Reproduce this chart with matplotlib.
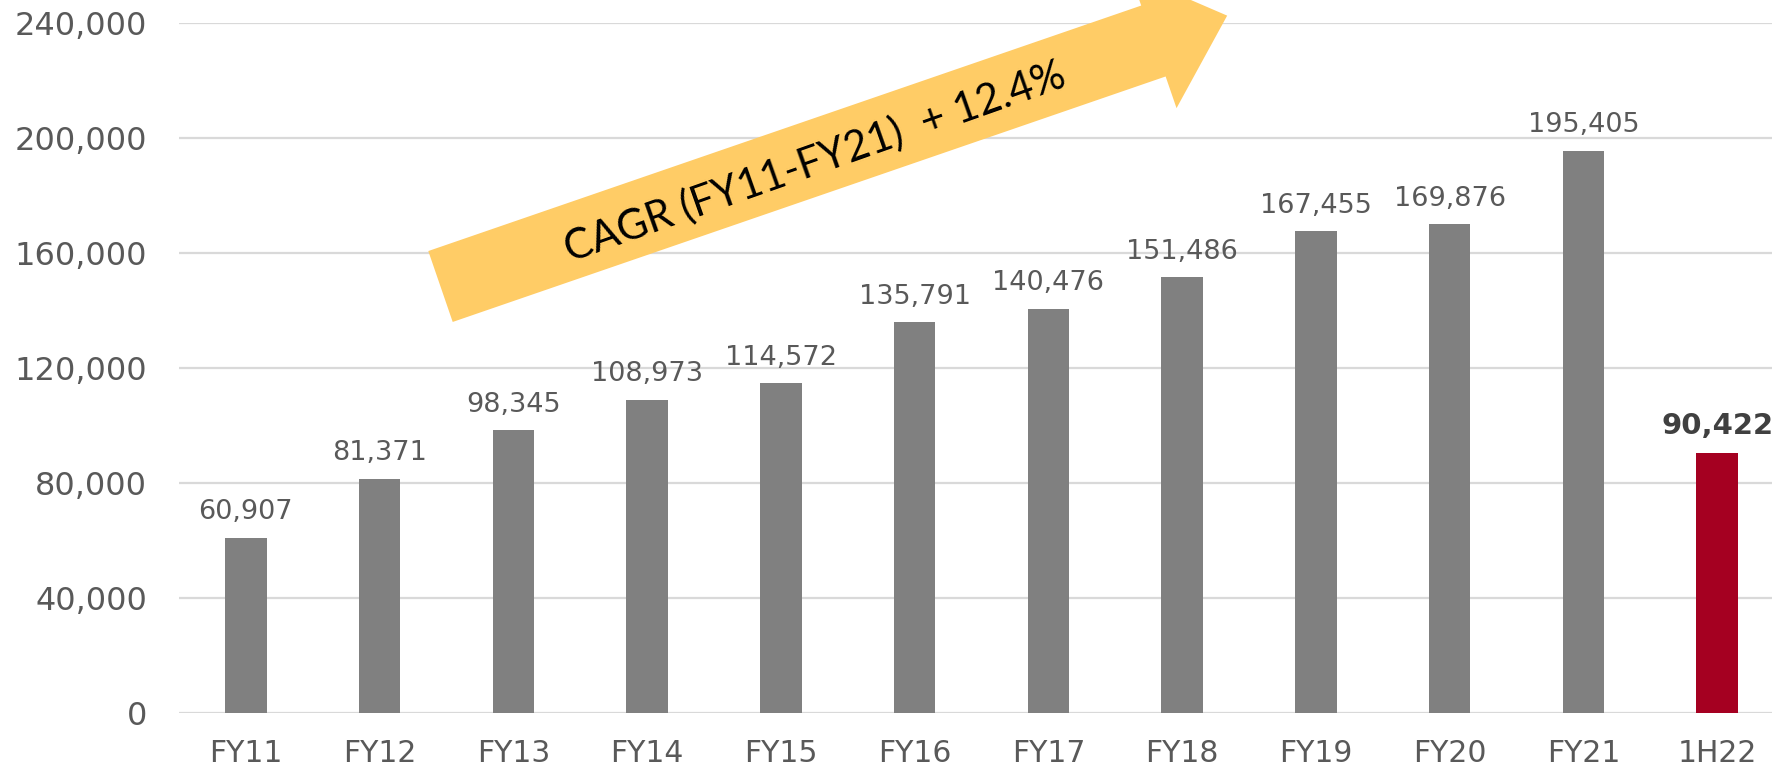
import numpy as np
import matplotlib
matplotlib.use('Agg')
import matplotlib.pyplot as plt
from matplotlib.patches import Polygon

# data
categories = ["FY11", "FY12", "FY13", "FY14", "FY15", "FY16", "FY17", "FY18",
              "FY19", "FY20", "FY21", "1H22"]
values = [60907, 81371, 98345, 108973, 114572, 135791, 140476, 151486,
          167455, 169876, 195405, 90422]
highlight = "1H22"
yticks = [0, 40000, 80000, 120000, 160000, 200000, 240000]
cagr_text = "CAGR (FY11-FY21)  + 12.4%"

W, H = 1772, 774
fig = plt.figure(figsize=(W / 100, H / 100), dpi=100)
# axes runs a little past the right edge, like the original slide crop
ax = fig.add_axes([179 / W, 1 - 713 / H, (1784 - 179) / W, (713 - 22.6) / H])

x = np.arange(len(categories))
colors = ["#A50021" if c == highlight else "#808080" for c in categories]
ax.bar(x, values, width=0.31, color=colors, zorder=2)

ax.set_xlim(-0.5, len(categories) - 0.5)
ax.set_ylim(0, 240000)
ax.set_yticks(yticks)
ax.set_yticklabels(["{:,}".format(v) for v in yticks])
ax.set_xticks(x)
ax.set_xticklabels(categories)
ax.tick_params(axis='y', length=0, pad=23, labelsize=23, labelcolor="#595959")
ax.tick_params(axis='x', length=0, pad=19, labelsize=21.5, labelcolor="#595959")
ax.grid(axis='y', color="#D9D9D9", linewidth=1.6, zorder=0)
ax.set_axisbelow(True)
for s in ax.spines.values():
    s.set_visible(False)

for xi, v, c in zip(x, values, categories):
    bold = c == highlight
    ax.annotate("{:,}".format(v), (xi, v), xytext=(0, 9), textcoords="offset points",
                ha="center", va="bottom", fontsize=21 if bold else 19.5,
                fontweight="bold" if bold else "normal",
                color="#404040" if bold else "#595959")

# growth arrow (figure pixels, y down from top)
ang = np.deg2rad(19)
u = np.array([np.cos(ang), -np.sin(ang)])
n = np.array([np.sin(ang), np.cos(ang)])
tail = np.array([440.5, 286.5])
body_len, half_w, head_half, tip_len = 754, 37.5, 71, 832
pts = [tail - half_w * n,
       tail - half_w * n + body_len * u,
       tail - head_half * n + body_len * u,
       tail + tip_len * u,
       tail + head_half * n + body_len * u,
       tail + half_w * n + body_len * u,
       tail + half_w * n]
pts = [(p[0] / W, 1 - p[1] / H) for p in pts]
arrow = Polygon(pts, closed=True, transform=fig.transFigure, facecolor="#FFCC66",
                edgecolor="none", zorder=5)
fig.patches.append(arrow)
tc = tail + 395 * u + 4 * n
fig.text(tc[0] / W, 1 - tc[1] / H, cagr_text, rotation=19.5, rotation_mode="anchor",
         ha="center", va="center", fontsize=30, family="Lato", color="black", zorder=6)

fig.savefig("out.png", dpi=100)
